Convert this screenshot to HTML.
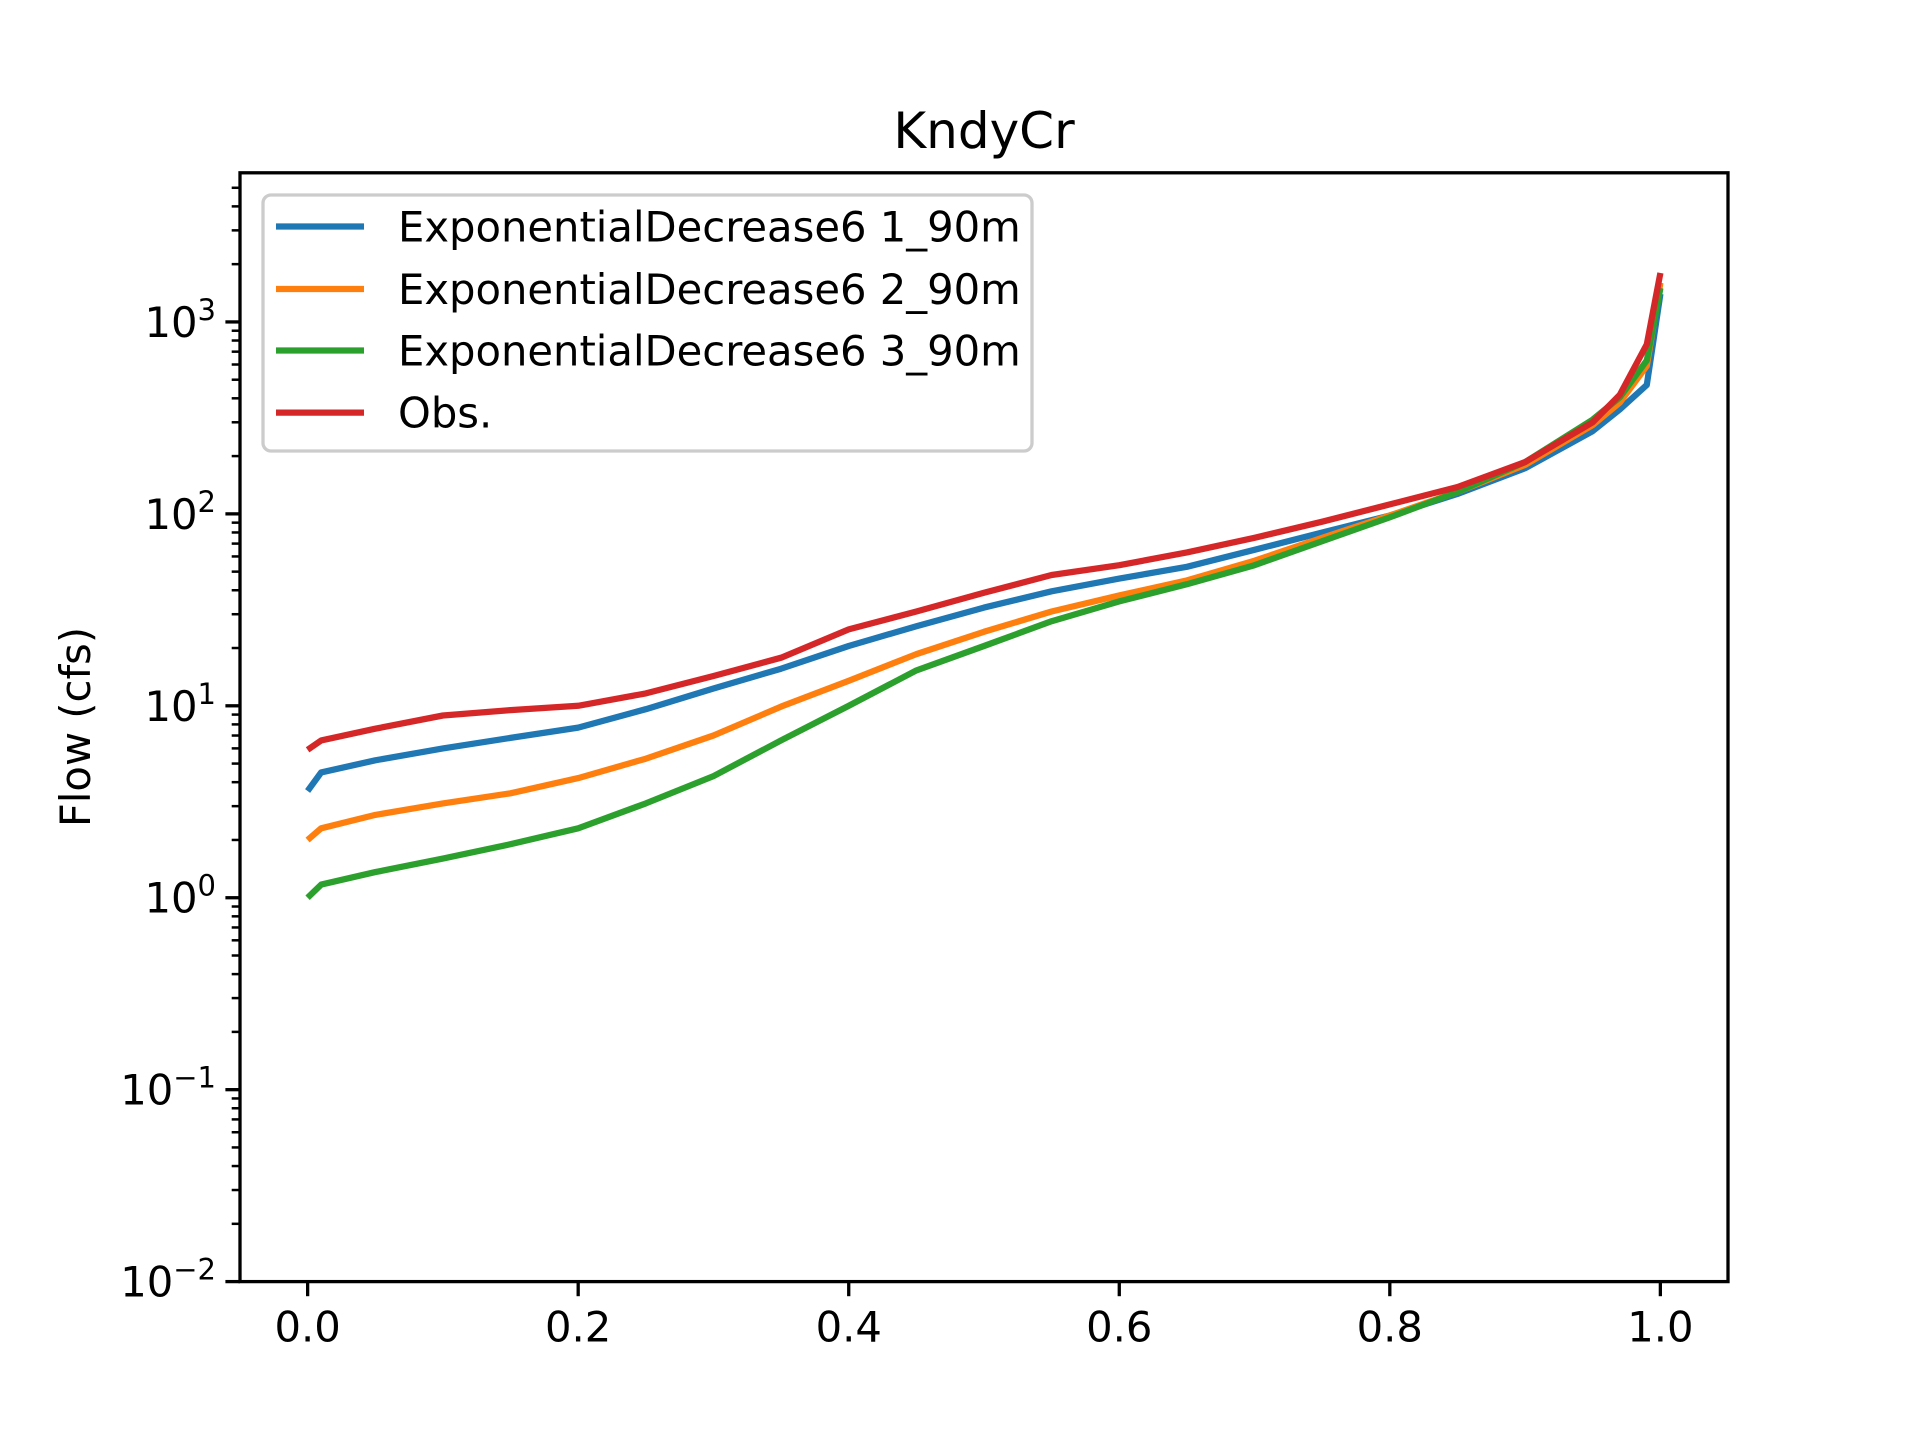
<!DOCTYPE html>
<html><head><meta charset="utf-8"><style>
html,body{margin:0;padding:0;background:#fff}
svg{display:block;font-family:"DejaVu Sans","Liberation Sans",sans-serif}
</style></head><body>
<svg id="chart" width="1920" height="1440" viewBox="0 0 1920 1440" xmlns="http://www.w3.org/2000/svg">
<rect width="1920" height="1440" fill="#fff"/>
<text x="984" y="148" font-size="50" text-anchor="middle">KndyCr</text>
<text transform="translate(90,727) rotate(-90)" font-size="41.7" text-anchor="middle">Flow (cfs)</text>
<g id="plot"></g>
<rect x="240" y="172.8" width="1488" height="1108.8" fill="none" stroke="#000" stroke-width="3.3"/>
<g id="legend">
<rect x="263" y="195" width="769" height="256" rx="8" fill="#fff" fill-opacity="0.8" stroke="#ccc" stroke-width="3.3"/>
</g>
</svg>
<script>
const xs = [0,0.01,0.05,0.1,0.15,0.2,0.25,0.3,0.35,0.4,0.45,0.5,0.55,0.6,0.65,0.7,0.75,0.8,0.85,0.9,0.95,0.97,0.99,1.0];
const seriesNames = ["ExponentialDecrease6 1_90m","ExponentialDecrease6 2_90m","ExponentialDecrease6 3_90m","Obs."];
const seriesColors = ["#1f77b4","#ff7f0e","#2ca02c","#d62728"];
const blue = [3.6,4.5,5.2,6.0,6.8,7.7,9.6,12.3,15.6,20.5,26,32.5,39.5,46,53,65,80,98,127,173,270,350,470,1400];
const orange = [2.0,2.3,2.7,3.1,3.5,4.2,5.3,7.0,9.9,13.5,18.6,24.3,31,37.6,45,57,75,98,130,180,290,380,590,1600];
const green = [1.0,1.17,1.36,1.6,1.9,2.3,3.1,4.3,6.6,10,15.3,20.5,27.6,35,43,54,72,96,130,186,310,405,630,1500];
const obs = [5.9,6.6,7.6,8.9,9.5,10,11.6,14.3,17.8,25,31,38.8,48,54,63,75,91,112,138,186,300,417,765,1800];
const xTicks = [0,0.2,0.4,0.6,0.8,1.0];
const xTickLabels = ["0.0","0.2","0.4","0.6","0.8","1.0"];
const yTickExps = [-2,-1,0,1,2,3];

const L=240,R=1728,T=172.8,B=1281.6;
const xmin=-0.05,xmax=1.05,lymin=-2,lymax=3.777;
const X=v=>L+(v-xmin)/(xmax-xmin)*(R-L);
const Y=v=>B-(Math.log10(v)-lymin)/(lymax-lymin)*(B-T);
const NS="http://www.w3.org/2000/svg";
const svg=document.getElementById('chart');
const plot=document.getElementById('plot');
const leg=document.getElementById('legend');
function mk(tag,attrs,parent){const e=document.createElementNS(NS,tag);for(const k in attrs)e.setAttribute(k,attrs[k]);(parent||svg).appendChild(e);return e;}

const all=[blue,orange,green,obs];
all.forEach((s,i)=>{
  const p=mk('polyline',{points:s.map((v,j)=>X(xs[j]).toFixed(1)+','+Y(v).toFixed(1)).join(' '),fill:'none',stroke:seriesColors[i],'stroke-width':6.25,'stroke-linejoin':'round'},plot);
  
  
});
xTicks.forEach((t,i)=>{
  const l=mk('line',{x1:X(t),x2:X(t),y1:B,y2:B+14.6,stroke:'#000','stroke-width':3.3});
  
  
  const tx=mk('text',{x:X(t),y:B+60,'font-size':41.7,'text-anchor':'middle'});
  tx.textContent=xTickLabels[i];
  
  
});
yTickExps.forEach(e=>{
  const y=Y(Math.pow(10,e));
  const l=mk('line',{x1:L-14.6,x2:L,y1:y,y2:y,stroke:'#000','stroke-width':3.3});
  
  
  const tx=mk('text',{x:L-24,y:y+15,'font-size':41.7,'text-anchor':'end'});
  tx.innerHTML='10<tspan dy="-17" font-size="29">'+(e<0?'\u2212'+(-e):e)+'</tspan>';
  
  
});
for(let e=-2;e<=3;e++){for(let m=2;m<=9;m++){const v=m*Math.pow(10,e);if(Math.log10(v)>lymax)continue;
  const y=Y(v);const l=mk('line',{x1:L-8.3,x2:L,y1:y,y2:y,stroke:'#000','stroke-width':2.5});
  
  }}
const ly=[226.5,289,350.5,412.6];
seriesNames.forEach((n,i)=>{
  const l=mk('line',{x1:276,x2:364,y1:ly[i],y2:ly[i],stroke:seriesColors[i],'stroke-width':6.25},leg);
  
  
  const t=mk('text',{x:398,y:ly[i]+15,'font-size':41.7},leg);
  t.textContent=n;
  
  
});
</script>
</body></html>
